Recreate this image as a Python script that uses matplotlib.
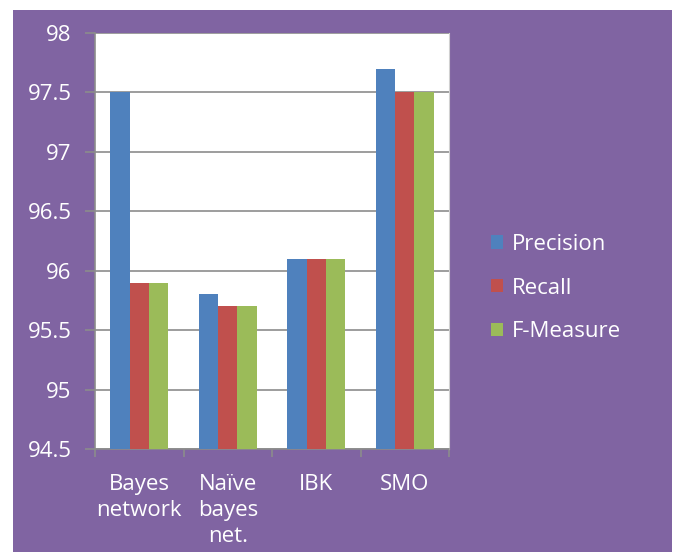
import matplotlib
matplotlib.use("Agg")
import matplotlib.pyplot as plt
import numpy as np
from matplotlib.patches import Rectangle

categories = ["Bayes\nnetwork", "Naïve\nbayes\nnet.", "IBK", "SMO"]
series_names = ["Precision", "Recall", "F-Measure"]
precision = [97.5, 95.8, 96.1, 97.7]
recall = [95.9, 95.7, 96.1, 97.5]
fmeasure = [95.9, 95.7, 96.1, 97.5]
yticks = [94.5, 95, 95.5, 96, 96.5, 97, 97.5, 98]
ytick_labels = ["94.5", "95", "95.5", "96", "96.5", "97", "97.5", "98"]

colors = ["#4F81BD", "#C0504D", "#9BBB59"]
purple = "#8064A2"

plt.rcParams['font.family'] = ['Open Sans', 'DejaVu Sans']

W, H = 676, 552
fig = plt.figure(figsize=(W / 100, H / 100), dpi=100)
fig.patch.set_facecolor("white")
fig.patches.append(Rectangle((13 / W, 0), (672 - 13) / W, (552 - 10) / H,
                             transform=fig.transFigure, facecolor=purple,
                             edgecolor="none", zorder=-10))

ax = fig.add_axes([95 / W, 1 - 449 / H, (449 - 95) / W, (449 - 33) / H])
ax.set_facecolor("white")

x = np.arange(len(categories))
bw = 0.22
for i, (vals, c, name) in enumerate(zip([precision, recall, fmeasure], colors, series_names)):
    ax.bar(x + (i - 1) * bw, np.array(vals) - 94.5, bottom=94.5, width=bw,
           color=c, label=name, zorder=3)

ax.set_xlim(-0.5, len(categories) - 0.5)
ax.set_ylim(94.5, 98)
ax.set_yticks(yticks)
ax.set_yticklabels(ytick_labels)
ax.yaxis.grid(True, color="#8C8C8C", linewidth=1.2, zorder=1)
ax.set_axisbelow(True)

ax.set_xticks(x)
ax.set_xticklabels(categories, linespacing=1.3, va="top")
ax.set_xticks(np.arange(-0.5, len(categories)), minor=True)
ax.tick_params(axis="x", which="major", length=0, pad=18, labelsize=16, colors="white")
ax.tick_params(axis="x", which="minor", length=6, width=1.2, color="#8C8C8C")
ax.tick_params(axis="y", length=7, width=1.2, color="#8C8C8C", labelsize=16,
               labelcolor="white", pad=10)

for s in ["left", "bottom"]:
    ax.spines[s].set_color("#8C8C8C")
    ax.spines[s].set_linewidth(1.2)
ax.spines["top"].set_visible(False)
ax.spines["right"].set_color("#D0D0D0")

leg = fig.legend(loc="upper left", bbox_to_anchor=(482 / W, 1 - 225 / H),
                 frameon=False, fontsize=16, handlelength=0.55, handleheight=0.55,
                 handletextpad=0.4, labelspacing=1.02, borderaxespad=0)
for t in leg.get_texts():
    t.set_color("white")

fig.savefig("out.png", dpi=100, facecolor=fig.get_facecolor())
